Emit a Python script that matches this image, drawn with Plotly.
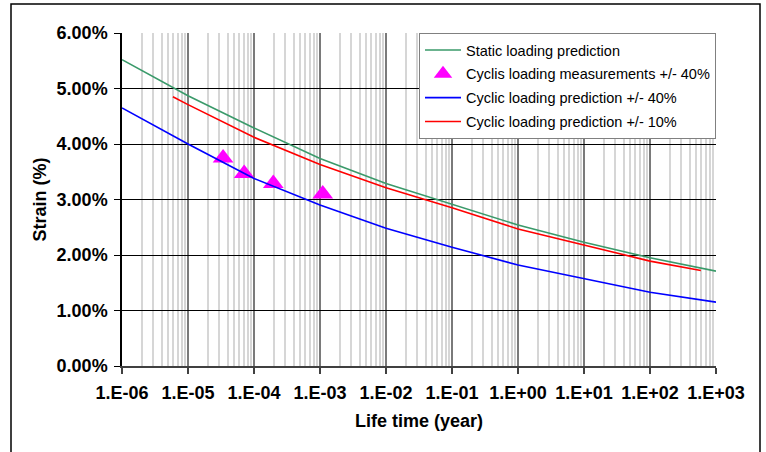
import plotly.graph_objects as go

# ---- data ----
decades = [1e-6, 1e-5, 1e-4, 1e-3, 1e-2, 1e-1, 1e0, 1e1, 1e2, 1e3]
tick_labels = ["1.E-06", "1.E-05", "1.E-04", "1.E-03", "1.E-02",
               "1.E-01", "1.E+00", "1.E+01", "1.E+02", "1.E+03"]

static_pred = [0.0552, 0.0487, 0.0429, 0.0374, 0.0329, 0.0291, 0.0254, 0.0223, 0.0195, 0.0171]

meas_x = [3.4e-5, 7.1e-5, 1.96e-4, 1.1e-3]
meas_y = [0.0375, 0.0347, 0.0329, 0.0310]

cyc40_pred = [0.0465, 0.0400, 0.0338, 0.0290, 0.0248, 0.0214, 0.0182, 0.0157, 0.0133, 0.0115]

cyc10_x = [5.9e-6, 1e-5, 1e-4, 1e-3, 1e-2, 1e-1, 1e0, 1e1, 1e2, 5.9e2]
cyc10_pred = [0.0485, 0.0471, 0.0412, 0.0363, 0.0321, 0.0285, 0.0247, 0.0218, 0.0189, 0.0172]

y_ticks = [0, 0.01, 0.02, 0.03, 0.04, 0.05, 0.06]

FONT = "Arial, Liberation Sans, sans-serif"

fig = go.Figure()
fig.add_trace(go.Scatter(x=decades, y=static_pred, mode="lines",
                         name="Static loading prediction",
                         line=dict(color="#3a9a6a", width=1.6), legendgroup="a"))
fig.add_trace(go.Scatter(x=meas_x, y=meas_y, mode="markers",
                         name="Cyclis loading measurements +/- 40%",
                         marker=dict(symbol="triangle-up", color="#ff00ff", size=18),
                         legendgroup="b"))
fig.add_trace(go.Scatter(x=decades, y=cyc40_pred, mode="lines",
                         name="Cyclic loading prediction +/- 40%",
                         line=dict(color="#0000ff", width=1.6), legendgroup="c"))
fig.add_trace(go.Scatter(x=cyc10_x, y=cyc10_pred, mode="lines",
                         name="Cyclic loading prediction +/- 10%",
                         line=dict(color="#ff0000", width=1.6), legendgroup="d"))

W, H = 766, 452
L, R, T, B = 122, 716, 33, 366
fig.update_layout(
    width=W, height=H,
    margin=dict(l=L, r=W - R, t=T, b=H - B),
    paper_bgcolor="white", plot_bgcolor="white",
    font=dict(family=FONT, color="black"),
    legend=dict(x=1, y=1, xanchor="right", yanchor="top",
                bgcolor="white", bordercolor="#808080", borderwidth=1,
                font=dict(family=FONT, size=14.5, color="black"),
                tracegroupgap=2, itemwidth=36),
    xaxis=dict(type="log", range=[-6, 3],
               tickvals=decades, ticktext=tick_labels,
               tickfont=dict(size=18, family=FONT, color="black", weight="bold"),
               ticks="outside", ticklen=6, tickcolor="#404040", tickwidth=1.5,
               showgrid=True, gridcolor="#7a7a7a", gridwidth=2,
               showline=True, linecolor="#404040", linewidth=1.5,
               minor=dict(dtick="D1", showgrid=True, gridcolor="#d6d6d6", gridwidth=1.5, ticks=""),
               title=dict(text="Life time (year)", standoff=12,
                          font=dict(size=18, family=FONT, color="black", weight="bold")),
               zeroline=False, ticklabelstandoff=4),
    yaxis=dict(range=[0, 0.06], tickvals=y_ticks, tickformat=".2%",
               tickfont=dict(size=18, family=FONT, color="black", weight="bold"),
               ticks="outside", ticklen=6, tickcolor="black", tickwidth=1,
               showgrid=True, gridcolor="black", gridwidth=1,
               showline=True, linecolor="black", linewidth=1.5,
               title=dict(text="Strain (%)", standoff=5,
                          font=dict(size=18, family=FONT, color="black", weight="bold")),
               zeroline=False, ticklabelstandoff=3),
)

# outer chart border
pw, ph = R - L, B - T
fig.add_shape(type="rect", xref="paper", yref="paper",
              x0=(11 - L) / pw, x1=(760 - L) / pw,
              y0=(B - 460) / ph, y1=(B - 4) / ph,
              line=dict(color="black", width=1.5), fillcolor="rgba(0,0,0,0)", layer="below")

fig.write_html("out.html")
